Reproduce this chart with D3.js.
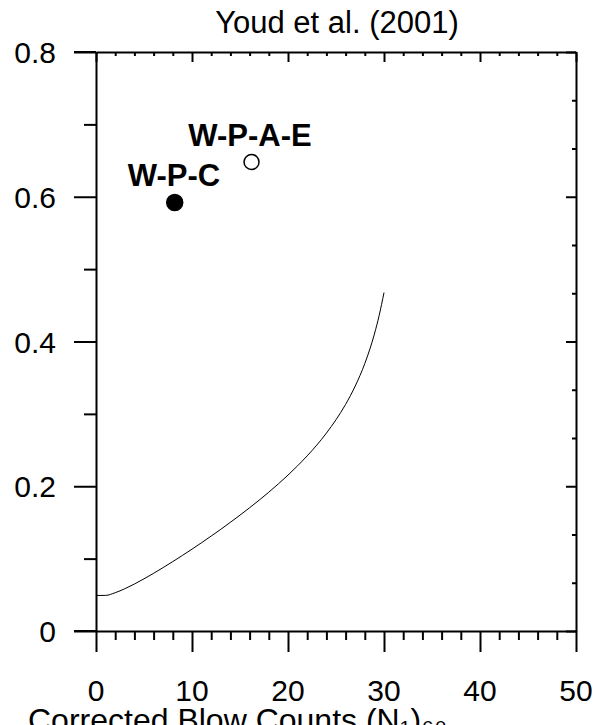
<!DOCTYPE html>
<html><head><meta charset="utf-8">
<script src="https://cdn.jsdelivr.net/npm/d3@7"></script>
<style>body{margin:0;background:#fff}svg{display:block}text{font-family:"Liberation Sans",Arial,sans-serif}</style>
</head><body><svg id="c" width="596" height="725"></svg>
<script>
const curveN = [0,1,2,3,4,5,6,7,8,9,10,11,12,13,14,15,16,17,18,19,20,21,22,23,24,25,26,27,28,28.5,29,29.5,30];
const curveCRR = [0.0491,0.0492,0.0529,0.0584,0.0649,0.0721,0.0797,0.0877,0.0959,0.1044,0.1131,0.1220,0.1312,0.1405,0.1502,0.1601,0.1703,0.1808,0.1918,0.2033,0.2154,0.2283,0.2420,0.2569,0.2734,0.2919,0.3131,0.3384,0.3695,0.3884,0.4103,0.4362,0.4676];
const pointNames = ["W-P-C","W-P-A-E"];
const pointN = [8.2,16.2];
const pointCSR = [0.592,0.648];
const pointFilled = [true,false];
const xTicks = [0,10,20,30,40,50];
const yTicks = [0,0.2,0.4,0.6,0.8];
const yTickLabels = ["0","0.2","0.4","0.6","0.8"];
const title = "Youd et al. (2001)";
const xLabel = "Corrected Blow Counts (N\u2081)\u2086\u2080";

const svg = d3.select("#c");
const x = d3.scaleLinear().domain([0,50]).range([96,576]);
const y = d3.scaleLinear().domain([0,0.8]).range([631,52]);

// curve
svg.append("path").datum(curveN.map((n,i)=>[n,curveCRR[i]]))
  .attr("d", d3.line().x(d=>x(d[0])).y(d=>y(d[1])).curve(d3.curveMonotoneX))
  .attr("fill","none").attr("stroke","#000").attr("stroke-width",1);

const sw = 2;
// left axis (outward ticks)
const gLeft = svg.append("g").attr("transform",`translate(${x(0)},0)`)
  .call(d3.axisLeft(y).tickValues(d3.range(0,9).map(i=>i*0.1)).tickSize(0).tickFormat(""));
gLeft.select(".domain").attr("stroke-width",sw);
gLeft.selectAll(".tick line").attr("stroke-width",sw)
  .attr("x2",(d,i)=>i%2===0?-22:-12);
svg.append("g").selectAll("text").data(yTicks).join("text")
  .attr("x",56).attr("y",d=>y(d)+11).attr("text-anchor","end")
  .attr("font-size",30).text((d,i)=>yTickLabels[i]);

// bottom axis (outward)
const gBottom = svg.append("g").attr("transform",`translate(0,${y(0)})`)
  .call(d3.axisBottom(x).tickValues(d3.range(0,51,2)).tickSize(0).tickFormat(""));
gBottom.select(".domain").attr("stroke-width",sw);
gBottom.selectAll(".tick line").attr("stroke-width",sw).attr("y2",d=>Math.round(d)%10===0?21:9);
svg.append("g").selectAll("text").data(xTicks).join("text")
  .attr("x",d=>x(d)).attr("y",701).attr("text-anchor","middle")
  .attr("font-size",30).text(d=>d);

// top axis (inward)
const gTop = svg.append("g").attr("transform",`translate(0,${y(0.8)})`)
  .call(d3.axisTop(x).tickValues(d3.range(0,51,2)).tickSize(0).tickFormat(""));
gTop.select(".domain").attr("stroke-width",sw);
gTop.selectAll(".tick line").attr("stroke-width",sw).attr("y2",d=>Math.round(d)%10===0?10:4);

// right axis (inward)
const gRight = svg.append("g").attr("transform",`translate(${x(50)},0)`)
  .call(d3.axisRight(y).tickValues(d3.range(0,13).map(i=>i*0.2/3)).tickSize(0).tickFormat(""));
gRight.select(".domain").attr("stroke-width",sw);
gRight.selectAll(".tick line").attr("stroke-width",sw).attr("x2",(d,i)=>i%3===0?-10:-4);

// axis extensions at corners
svg.append("line").attr("x1",74).attr("x2",96).attr("y1",y(0)).attr("y2",y(0)).attr("stroke","#000").attr("stroke-width",sw);
svg.append("line").attr("x1",74).attr("x2",96).attr("y1",y(0.8)).attr("y2",y(0.8)).attr("stroke","#000").attr("stroke-width",sw);

// points
svg.append("g").selectAll("circle").data(pointN).join("circle")
  .attr("cx",d=>x(d)).attr("cy",(d,i)=>y(pointCSR[i])).attr("r",(d,i)=>pointFilled[i]?8:7.5)
  .attr("fill",(d,i)=>pointFilled[i]?"#000":"#fff").attr("stroke","#000").attr("stroke-width",1.5);
const labelPos = [[174,186],[250,146]];
svg.append("g").selectAll("text").data(pointNames).join("text")
  .attr("x",(d,i)=>labelPos[i][0]).attr("y",(d,i)=>labelPos[i][1]).attr("text-anchor","middle")
  .attr("font-size",31).attr("font-weight","bold").text(d=>d);

svg.append("text").attr("x",337).attr("y",33).attr("text-anchor","middle").attr("font-size",31).text(title);
svg.append("text").attr("x",28).attr("y",731).attr("font-size",32).text(xLabel);
</script></body></html>
